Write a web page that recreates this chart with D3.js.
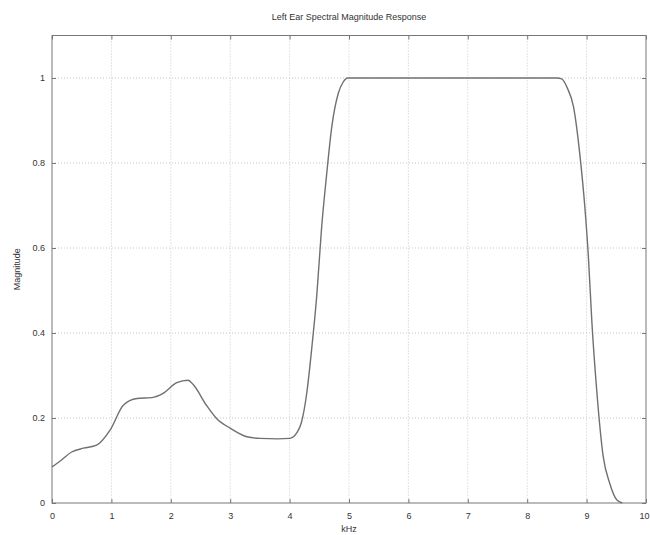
<!DOCTYPE html>
<html>
<head>
<meta charset="utf-8">
<script src="https://cdn.jsdelivr.net/npm/d3@7"></script>
<style>
  body { margin: 0; background: #fff; }
  svg { display: block; font-family: "Liberation Sans", Arial, sans-serif; }
  .tick text { fill: #333; font-size: 9px; }
  .grid line { stroke: #c8c8c8; stroke-dasharray: 1,2; }
</style>
</head>
<body>
<svg id="chart" width="650" height="535"></svg>
<script>
// Data
const freqKHz = [0, 0.15, 0.33, 0.53, 0.75, 0.98, 1.2, 1.43, 1.68, 1.87, 2.1, 2.29, 2.38,
  2.6, 2.77, 3.0, 3.28, 3.5, 3.8, 4.0, 4.12, 4.2, 4.29, 4.37, 4.46, 4.54, 4.62, 4.71,
  4.82, 4.9, 4.98, 5.5, 6, 7, 8, 8.5, 8.58, 8.68, 8.78, 8.89, 8.97, 9.03, 9.09, 9.17,
  9.28, 9.39, 9.51, 9.6];
const magnitude = [0.085, 0.1, 0.12, 0.129, 0.136, 0.172, 0.23, 0.246, 0.248, 0.258, 0.283, 0.289, 0.278,
  0.23, 0.199, 0.176, 0.156, 0.152, 0.151, 0.152, 0.165, 0.19, 0.26, 0.36, 0.493, 0.65, 0.768, 0.885,
  0.964, 0.99, 1.0, 1.0, 1.0, 1.0, 1.0, 1.0, 0.998, 0.975, 0.932, 0.815, 0.697, 0.58, 0.423, 0.266,
  0.109, 0.046, 0.007, 0];
const xTicks = [0, 1, 2, 3, 4, 5, 6, 7, 8, 9, 10];
const yTicks = [0, 0.2, 0.4, 0.6, 0.8, 1];

const TITLE = "Left Ear Spectral Magnitude Response";
const X_LABEL = "kHz";
const Y_LABEL = "Magnitude";

// Layout
const W = 650, H = 535;
const M = { top: 35.5, right: 4, bottom: 32, left: 52 };
const innerW = W - M.left - M.right;
const innerH = H - M.top - M.bottom;

const svg = d3.select("#chart");
const g = svg.append("g").attr("transform", `translate(${M.left},${M.top})`);

const x = d3.scaleLinear().domain([0, 10]).range([0, innerW]);
const y = d3.scaleLinear().domain([0, 1.1]).range([innerH, 0]);

// Grid
g.append("g").attr("class", "grid")
  .selectAll("line").data(xTicks.slice(1, -1)).join("line")
  .attr("x1", d => x(d)).attr("x2", d => x(d))
  .attr("y1", 0).attr("y2", innerH);
g.append("g").attr("class", "grid")
  .selectAll("line").data(yTicks.slice(1)).join("line")
  .attr("x1", 0).attr("x2", innerW)
  .attr("y1", d => y(d)).attr("y2", d => y(d));

// Axes (ticks point inward, MATLAB style)
const axisColor = "#777";
const xAxis = g.append("g").attr("transform", `translate(0,${innerH})`)
  .call(d3.axisBottom(x).tickValues(xTicks).tickSize(-4).tickPadding(10).tickFormat(d3.format("d")));
const yAxis = g.append("g")
  .call(d3.axisLeft(y).tickValues(yTicks).tickSize(-4).tickPadding(7).tickFormat(d => d));
[xAxis, yAxis].forEach(a => {
  a.select(".domain").remove();
  a.selectAll(".tick line").attr("stroke", axisColor);
});
// last x label sits at the window edge; keep it inside
xAxis.selectAll(".tick text").filter(d => d === 10).attr("text-anchor", "end").attr("dx", 3);

// Top and right ticks
g.append("g")
  .call(d3.axisTop(x).tickValues(xTicks).tickSize(-4).tickFormat(""))
  .call(a => a.select(".domain").remove())
  .selectAll(".tick line").attr("stroke", axisColor);
g.append("g").attr("transform", `translate(${innerW},0)`)
  .call(d3.axisRight(y).tickValues(yTicks).tickSize(-4).tickFormat(""))
  .call(a => a.select(".domain").remove())
  .selectAll(".tick line").attr("stroke", axisColor);

// Frame
g.append("rect")
  .attr("width", innerW).attr("height", innerH)
  .attr("fill", "none").attr("stroke", axisColor).attr("stroke-width", 1);

// Curve
const line = d3.line()
  .x((d, i) => x(freqKHz[i]))
  .y(d => y(d))
  .curve(d3.curveMonotoneX);
g.append("path")
  .datum(magnitude)
  .attr("fill", "none")
  .attr("stroke", "#707070")
  .attr("stroke-width", 1.4)
  .attr("d", line);

// Labels
svg.append("text")
  .attr("x", M.left + innerW / 2).attr("y", 20)
  .attr("text-anchor", "middle")
  .attr("font-size", 9).attr("fill", "#333")
  .text(TITLE);
svg.append("text")
  .attr("x", M.left + innerW / 2).attr("y", 532)
  .attr("text-anchor", "middle")
  .attr("font-size", 9).attr("fill", "#333")
  .text(X_LABEL);
svg.append("text")
  .attr("transform", `translate(20,${M.top + innerH / 2}) rotate(-90)`)
  .attr("text-anchor", "middle")
  .attr("font-size", 9).attr("fill", "#333")
  .text(Y_LABEL);
</script>
</body>
</html>
